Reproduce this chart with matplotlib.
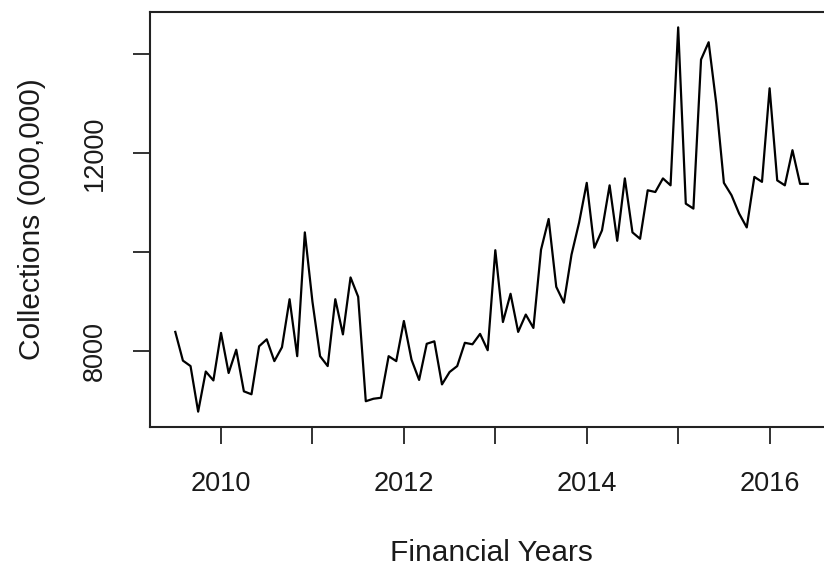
import numpy as np
import matplotlib
matplotlib.use("Agg")
import matplotlib.pyplot as plt

# Monthly collections, July 2009 to June 2016 (financial years)
start_year = 2009.5
collections = [
    8390, 7810, 7700, 6780, 7590, 7410, 8370, 7560, 8030, 7190, 7130, 8100,
    8240, 7800, 8080, 9050, 7900, 10400, 9000, 7900, 7700, 9050, 8340, 9490,
    9100, 6990, 7040, 7060, 7900, 7800, 8610, 7830, 7420, 8150, 8200, 7330,
    7580, 7700, 8170, 8140, 8350, 8020, 10040, 8590, 9160, 8390, 8740, 8470,
    10050, 10670, 9300, 8980, 9950, 10600, 11400, 10090, 10440, 11350, 10230, 11490,
    10400, 10270, 11250, 11215, 11490, 11350, 14540, 10980, 10880, 13890, 14240, 13000,
    11400, 11150, 10780, 10500, 11520, 11420, 13310, 11450, 11350, 12060, 11380, 11380,
]
x_ticks = [2010, 2011, 2012, 2013, 2014, 2015, 2016]
x_tick_labels = ["2010", "", "2012", "", "2014", "", "2016"]
y_ticks = [8000, 10000, 12000, 14000]
y_tick_labels = ["8000", "", "12000", ""]
x_title = "Financial Years"
y_title = "Collections (000,000)"

values = np.array(collections, dtype=float)
time = start_year + np.arange(len(values)) / 12.0

plt.rcParams["font.family"] = ["Liberation Sans", "DejaVu Sans"]

W, H = 824, 569
fig = plt.figure(figsize=(W / 100, H / 100), dpi=100)
left, right, top, bottom = 150, 833, 12, 427
ax = fig.add_axes([left / W, 1 - bottom / H, (right - left) / W, (bottom - top) / H])

ax.plot(time, values, color="black", lw=1.6)

# R-style 4% padding around the data range
def padded(lo, hi, frac=0.04):
    r = hi - lo
    return lo - frac * r, hi + frac * r

ax.set_xlim(*padded(time.min(), time.max()))
ax.set_ylim(*padded(values.min(), values.max()))

text_color = "#1a1a1a"
ax.set_xticks(x_ticks)
ax.set_xticklabels(x_tick_labels, fontsize=19.5, color=text_color)
ax.set_yticks(y_ticks)
ax.set_yticklabels(y_tick_labels, fontsize=19.5, color=text_color, rotation=90, va="center")
ax.tick_params(axis="both", direction="out", length=12, width=1.3, color="#222222")
ax.tick_params(axis="x", pad=20)
ax.tick_params(axis="y", pad=18)

for s in ax.spines.values():
    s.set_linewidth(1.5)
    s.set_color("#222222")

ax.set_xlabel(x_title, fontsize=21.5, color=text_color, labelpad=30)
ax.set_ylabel(y_title, fontsize=21.5, color=text_color, labelpad=26)

fig.savefig("out.png", dpi=100)
